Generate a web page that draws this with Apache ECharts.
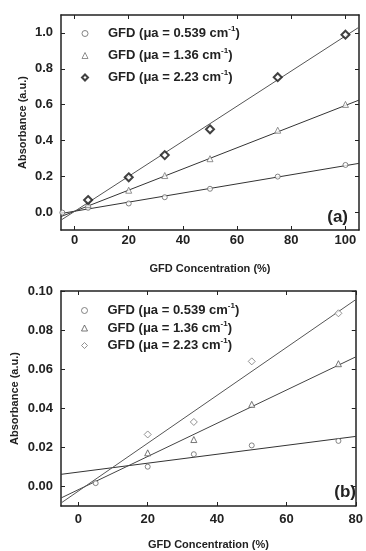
<!DOCTYPE html>
<html>
<head>
<meta charset="utf-8">
<script src="https://cdn.jsdelivr.net/npm/echarts@6/dist/echarts.min.js"></script>
<style>
  html, body { margin: 0; padding: 0; background: #fff; }
  #chart { width: 366px; height: 551px; }
</style>
</head>
<body>
<div id="chart"></div>
<script>
// panel (a)
const concA = [5, 20, 33.3, 50, 75, 100];
const absA1 = [0.024, 0.048, 0.083, 0.13, 0.198, 0.263];
const absA2 = [0.043, 0.122, 0.204, 0.298, 0.457, 0.601];
const absA3 = [0.067, 0.194, 0.318, 0.462, 0.753, 0.99];
const edgePointA1 = [-4.5, -0.003];
const fitA1 = [[-5, -0.008], [105, 0.272]];
const fitA2 = [[-5, -0.025], [105, 0.625]];
const fitA3 = [[-5, -0.045], [105, 1.032]];

// panel (b)
const concB = [5, 20, 33.3, 50, 75];
const absB1 = [0.0017, 0.0101, 0.0165, 0.021, 0.0233];
const concB23 = [20, 33.3, 50, 75];
const absB2 = [0.0172, 0.024, 0.042, 0.0628];
const absB3 = [0.0266, 0.033, 0.064, 0.0886];
const fitB1 = [[-5, 0.0062], [80, 0.0256]];
const fitB2 = [[-5, -0.0059], [80, 0.0663]];
const fitB3 = [[-5, -0.0085], [80, 0.0956]];

const xTicksA = [0, 20, 40, 60, 80, 100];
const yTicksA = [0, 0.2, 0.4, 0.6, 0.8, 1.0];
const xTicksB = [0, 20, 40, 60, 80];
const yTicksB = [0, 0.02, 0.04, 0.06, 0.08, 0.1];

const legendLabels = ['0.539', '1.36', '2.23'];

const font = "'Liberation Sans', Arial, sans-serif";
const ink = '#222';

const pairs = (xs, ys) => xs.map((x, i) => [x, ys[i]]);

const chart = echarts.init(document.getElementById('chart'));

// one side of the boxed frame
function axis(gridIndex, position, min, max, ticks, opts) {
  const main = position === 'bottom' || position === 'left';
  return Object.assign({
    type: 'value',
    gridIndex: gridIndex,
    position: position,
    min: min,
    max: max,
    nameMoveOverlap: false,
    splitLine: { show: false },
    axisLine: { show: true, onZero: false, lineStyle: { color: ink, width: 1.5 } },
    axisTick: { show: true, inside: true, length: 4, customValues: ticks, lineStyle: { color: ink, width: 1 } },
    axisLabel: { show: main, customValues: ticks },
    nameTextStyle: { color: ink, fontFamily: font, fontWeight: 'bold', fontSize: 11 }
  }, opts || {});
}

function tickLabels(ticks, margin, formatter) {
  return {
    customValues: ticks, margin: margin, color: ink,
    fontFamily: font, fontWeight: 'bold', fontSize: 13, formatter: formatter
  };
}

function legendFor(prefix, top, gap, icons) {
  return {
    top: top,
    left: 81,
    padding: 0,
    orient: 'vertical',
    itemWidth: 6,
    itemHeight: 6,
    itemGap: gap,
    data: icons.map((ic, i) => ({ name: prefix + i, icon: ic.icon, itemStyle: ic.style })),
    formatter: name => {
      const k = +name.slice(-1);
      return '{a|GFD (μa = ' + legendLabels[k] + ' cm}{s|-1}{a|)}';
    },
    textStyle: {
      padding: [0, 0, 0, 15],
      rich: {
        a: { fontFamily: font, fontWeight: 'bold', fontSize: 13, color: ink, lineHeight: 17 },
        s: { fontFamily: font, fontWeight: 'bold', fontSize: 8, color: ink, lineHeight: 17, verticalAlign: 'top' }
      }
    }
  };
}

function scatter(name, xIdx, yIdx, data, symbol, size, style) {
  return {
    name: name, type: 'scatter', xAxisIndex: xIdx, yAxisIndex: yIdx,
    data: data, symbol: symbol, symbolSize: size, itemStyle: style, z: 5
  };
}

function fit(xIdx, yIdx, data, color) {
  return {
    type: 'line', xAxisIndex: xIdx, yAxisIndex: yIdx, data: data,
    symbol: 'none', clip: true, silent: true, z: 3,
    lineStyle: { color: color, width: 1 }
  };
}

const sA1 = { color: '#fff', borderColor: '#666', borderWidth: 1 };
const sA2 = { color: '#fff', borderColor: '#777', borderWidth: 1 };
const sA3 = { color: '#fff', borderColor: '#111', borderWidth: 2 };
const sB1 = { color: '#fff', borderColor: '#666', borderWidth: 1 };
const sB2 = { color: '#fff', borderColor: '#555', borderWidth: 1 };
const sB3 = { color: '#fff', borderColor: '#777', borderWidth: 1 };

chart.setOption({
  animation: false,
  textStyle: { fontFamily: font },
  grid: [
    { left: 61, top: 15, width: 298, height: 215 },
    { left: 61, top: 291, width: 298, height: 215 }
  ],
  xAxis: [
    axis(0, 'bottom', -5, 105, xTicksA, {
      name: 'GFD Concentration (%)', nameLocation: 'middle', nameGap: 33,
      axisLabel: tickLabels(xTicksA, 4)
    }),
    axis(0, 'top', -5, 105, xTicksA),
    axis(1, 'bottom', -5, 80, xTicksB, {
      name: 'GFD Concentration (%)', nameLocation: 'middle', nameGap: 33,
      axisLabel: tickLabels(xTicksB, 7)
    }),
    axis(1, 'top', -5, 80, xTicksB)
  ],
  yAxis: [
    axis(0, 'left', -0.1, 1.1, yTicksA, {
      name: 'Absorbance (a.u.)', nameLocation: 'middle', nameGap: 33,
      axisLabel: tickLabels(yTicksA, 8, v => v.toFixed(1))
    }),
    axis(0, 'right', -0.1, 1.1, yTicksA),
    axis(1, 'left', -0.01, 0.1, yTicksB, {
      name: 'Absorbance (a.u.)', nameLocation: 'middle', nameGap: 41,
      axisLabel: tickLabels(yTicksB, 8, v => v.toFixed(2))
    }),
    axis(1, 'right', -0.01, 0.1, yTicksB)
  ],
  legend: [
    legendFor('a', 25, 7, [
      { icon: 'circle', style: sA1 }, { icon: 'triangle', style: sA2 }, { icon: 'diamond', style: sA3 }
    ]),
    legendFor('b', 302, 2.5, [
      { icon: 'circle', style: sB1 }, { icon: 'triangle', style: sB2 }, { icon: 'diamond', style: sB3 }
    ])
  ],
  graphic: [
    { type: 'text', right: 18, top: 209, style: { text: '(a)', fill: ink, font: 'bold 17px ' + font } },
    { type: 'text', right: 10, top: 484, style: { text: '(b)', fill: ink, font: 'bold 17px ' + font } }
  ],
  series: [
    fit(0, 0, fitA1, '#333'),
    fit(0, 0, fitA2, '#333'),
    fit(0, 0, fitA3, '#555'),
    scatter('a0', 0, 0, [edgePointA1].concat(pairs(concA, absA1)), 'circle', 5, sA1),
    scatter('a1', 0, 0, pairs(concA, absA2), 'triangle', 6, sA2),
    scatter('a2', 0, 0, pairs(concA, absA3), 'diamond', 8, sA3),
    fit(2, 2, fitB1, '#333'),
    fit(2, 2, fitB2, '#444'),
    fit(2, 2, fitB3, '#555'),
    scatter('b0', 2, 2, pairs(concB, absB1), 'circle', 5, sB1),
    scatter('b1', 2, 2, pairs(concB23, absB2), 'triangle', 6, sB2),
    scatter('b2', 2, 2, pairs(concB23, absB3), 'diamond', 7, sB3)
  ]
});
</script>
</body>
</html>
